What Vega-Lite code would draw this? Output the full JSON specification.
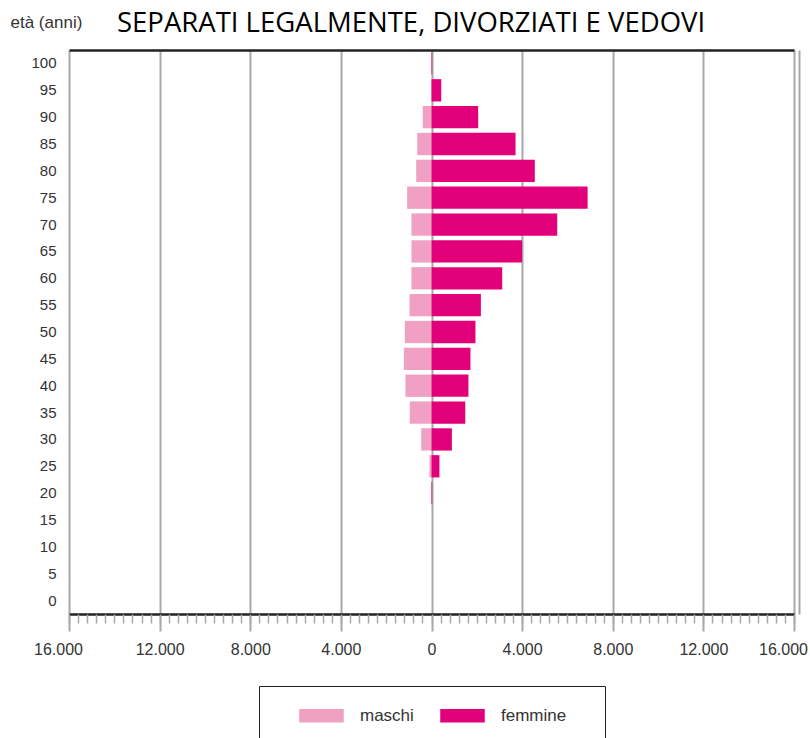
{
  "$schema": "https://vega.github.io/schema/vega-lite/v6.json",
  "width": 725,
  "height": 564,
  "autosize": "none",
  "padding": {"left": 69, "top": 50, "right": 16, "bottom": 124},
  "background": "white",
  "config": {
    "view": {"stroke": null},
    "font": "Liberation Sans"
  },
  "title": {
    "text": "SEPARATI LEGALMENTE, DIVORZIATI E VEDOVI",
    "anchor": "start",
    "dx": 107,
    "dy": 39,
    "offset": 15,
    "font": "Open Sans",
    "fontSize": 27.5,
    "fontWeight": "normal",
    "color": "#000000"
  },
  "data": {
    "values": [
      {"eta": 100, "sesso": "maschi", "valore": -10},
      {"eta": 100, "sesso": "femmine", "valore": 30},
      {"eta": 95, "sesso": "maschi", "valore": 0},
      {"eta": 95, "sesso": "femmine", "valore": 430},
      {"eta": 90, "sesso": "maschi", "valore": -385},
      {"eta": 90, "sesso": "femmine", "valore": 2060},
      {"eta": 85, "sesso": "maschi", "valore": -630},
      {"eta": 85, "sesso": "femmine", "valore": 3710},
      {"eta": 80, "sesso": "maschi", "valore": -675},
      {"eta": 80, "sesso": "femmine", "valore": 4560},
      {"eta": 75, "sesso": "maschi", "valore": -1075},
      {"eta": 75, "sesso": "femmine", "valore": 6890},
      {"eta": 70, "sesso": "maschi", "valore": -885},
      {"eta": 70, "sesso": "femmine", "valore": 5550},
      {"eta": 65, "sesso": "maschi", "valore": -885},
      {"eta": 65, "sesso": "femmine", "valore": 4000},
      {"eta": 60, "sesso": "maschi", "valore": -885},
      {"eta": 60, "sesso": "femmine", "valore": 3120},
      {"eta": 55, "sesso": "maschi", "valore": -970},
      {"eta": 55, "sesso": "femmine", "valore": 2180},
      {"eta": 50, "sesso": "maschi", "valore": -1180},
      {"eta": 50, "sesso": "femmine", "valore": 1940},
      {"eta": 45, "sesso": "maschi", "valore": -1220},
      {"eta": 45, "sesso": "femmine", "valore": 1720},
      {"eta": 40, "sesso": "maschi", "valore": -1150},
      {"eta": 40, "sesso": "femmine", "valore": 1630},
      {"eta": 35, "sesso": "maschi", "valore": -960},
      {"eta": 35, "sesso": "femmine", "valore": 1490},
      {"eta": 30, "sesso": "maschi", "valore": -455},
      {"eta": 30, "sesso": "femmine", "valore": 900},
      {"eta": 25, "sesso": "maschi", "valore": -90},
      {"eta": 25, "sesso": "femmine", "valore": 350},
      {"eta": 20, "sesso": "maschi", "valore": -15},
      {"eta": 20, "sesso": "femmine", "valore": 30},
      {"eta": 15, "sesso": "maschi", "valore": 0},
      {"eta": 15, "sesso": "femmine", "valore": 0},
      {"eta": 10, "sesso": "maschi", "valore": 0},
      {"eta": 10, "sesso": "femmine", "valore": 0},
      {"eta": 5, "sesso": "maschi", "valore": 0},
      {"eta": 5, "sesso": "femmine", "valore": 0},
      {"eta": 0, "sesso": "maschi", "valore": 0},
      {"eta": 0, "sesso": "femmine", "valore": 0}
    ]
  },
  "resolve": {"axis": {"x": "independent", "y": "independent"}},
  "layer": [
    {
      "mark": {"type": "bar"},
      "encoding": {
        "y": {
          "field": "eta",
          "type": "ordinal",
          "sort": "descending",
          "scale": {"paddingInner": 0.17, "paddingOuter": 0.085},
          "axis": {
            "orient": "left",
            "title": "età (anni)",
            "titleAngle": 0,
            "titleX": -59,
            "titleY": -28,
            "titleAlign": "left",
            "titleBaseline": "middle",
            "titleFontSize": 17,
            "titleFontWeight": "normal",
            "titleColor": "#333333",
            "titleFont": "Liberation Sans",
            "labelFontSize": 15,
            "labelColor": "#333333",
            "labelPadding": 13,
            "ticks": false,
            "domain": false,
            "grid": false
          }
        },
        "x": {
          "field": "valore",
          "type": "quantitative",
          "stack": null,
          "scale": {"domain": [-16000, 16000], "nice": false, "zero": false},
          "axis": {
            "orient": "bottom",
            "title": null,
            "values": [-16000, -12000, -8000, -4000, 0, 4000, 8000, 12000, 16000],
            "labelExpr": "replace(format(abs(datum.value), ','), ',', '.')",
            "labelFontSize": 16,
            "labelColor": "#333333",
            "labelPadding": 10,
            "labelFlush": false,
            "labelOffset": {"condition": {"test": "abs(datum.value) == 16000", "value": -11}, "value": 0},
            "grid": true,
            "gridColor": "#a8a8a8",
            "gridWidth": 2,
            "tickColor": "#a8a8a8",
            "tickWidth": 2,
            "tickSize": 17,
            "domain": true,
            "domainColor": "#222222",
            "domainWidth": 2.5
          }
        },
        "color": {
          "field": "sesso",
          "type": "nominal",
          "scale": {"domain": ["maschi", "femmine"], "range": ["#f0a0c2", "#e2007a"]},
          "legend": {
            "orient": "none",
            "legendX": 190,
            "legendY": 636,
            "direction": "horizontal",
            "title": "\u00a0",
            "titleOrient": "right",
            "titlePadding": 18,
            "titleFontSize": 10,
            "strokeColor": "#222222",
            "padding": 21,
            "symbolOffset": 33,
            "symbolType": "M-3.3,-1H3.3V1H-3.3Z",
            "symbolSize": 182,
            "symbolStrokeWidth": 0,
            "labelOffset": 30,
            "labelFontSize": 17,
            "labelColor": "#333333",
            "columnPadding": 7
          }
        }
      }
    },
    {
      "mark": {"type": "point", "opacity": 0},
      "encoding": {
        "y": {"field": "eta", "type": "ordinal", "sort": "descending", "axis": null},
        "x": {
          "field": "valore",
          "type": "quantitative",
          "axis": {
            "orient": "bottom",
            "title": null,
            "values": [-16000, -15600, -15200, -14800, -14400, -14000, -13600, -13200, -12800, -12400, -12000, -11600, -11200, -10800, -10400, -10000, -9600, -9200, -8800, -8400, -8000, -7600, -7200, -6800, -6400, -6000, -5600, -5200, -4800, -4400, -4000, -3600, -3200, -2800, -2400, -2000, -1600, -1200, -800, -400, 0, 400, 800, 1200, 1600, 2000, 2400, 2800, 3200, 3600, 4000, 4400, 4800, 5200, 5600, 6000, 6400, 6800, 7200, 7600, 8000, 8400, 8800, 9200, 9600, 10000, 10400, 10800, 11200, 11600, 12000, 12400, 12800, 13200, 13600, 14000, 14400, 14800, 15200, 15600, 16000],
            "labels": false,
            "grid": false,
            "domain": false,
            "tickColor": "#a8a8a8",
            "tickWidth": 1.5,
            "tickSize": 9
          }
        }
      }
    },
    {
      "mark": {"type": "point", "opacity": 0},
      "encoding": {
        "y": {
          "field": "eta",
          "type": "ordinal",
          "sort": "descending",
          "axis": {
            "orient": "right",
            "title": null,
            "labels": false,
            "ticks": false,
            "grid": false,
            "domain": true,
            "domainColor": "#a8a8a8",
            "domainWidth": 2,
            "offset": 5
          }
        },
        "x": {
          "field": "valore",
          "type": "quantitative",
          "axis": {
            "orient": "top",
            "title": null,
            "labels": false,
            "ticks": false,
            "grid": false,
            "domain": true,
            "domainColor": "#222222",
            "domainWidth": 2.5
          }
        }
      }
    }
  ]
}
